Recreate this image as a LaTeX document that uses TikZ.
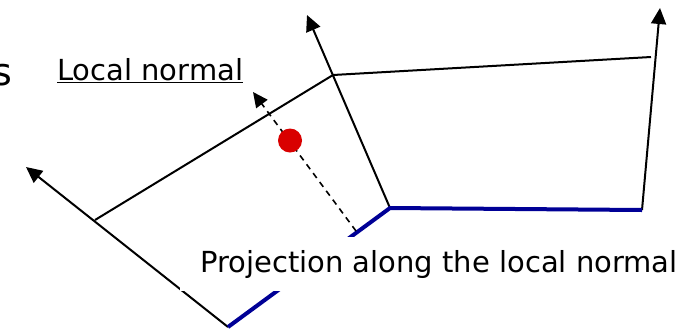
\documentclass[tikz,border=0pt]{standalone}
\usepackage{fontspec}
\setmainfont{DejaVu Sans}
\usetikzlibrary{arrows.meta}

\begin{document}
\begin{tikzpicture}[
  x=1pt, y=-1pt,
  edge/.style={line width=2pt, black},
  axis/.style={line width=2pt, -{Triangle[length=16pt, width=15pt]}},
  facet/.style={line width=4pt, draw={rgb,255:red,0;green,0;blue,150}},
  normal/.style={line width=1.6pt, dashed, dash pattern=on 6pt off 5pt, -{Triangle[length=15pt, width=14pt]}},
  label/.style={font=\fontsize{29}{32}\selectfont, inner sep=0pt}
]
\useasboundingbox (0,0) rectangle (692,330);

% corner points of the two cells
\coordinate (a) at (228,327);
\coordinate (b) at (95,220);
\coordinate (c) at (390,208);
\coordinate (d) at (333,75);
\coordinate (e) at (642,210);
\coordinate (f) at (651,57);
\coordinate (ltip) at (26,167);
\coordinate (mtip) at (307,15);
\coordinate (rtip) at (660,8);
\coordinate (foot) at (356,231);
\coordinate (ntip) at (253,92);

\draw[axis] (a) -- (ltip);
\draw[axis] (c) -- (mtip);
\draw[axis] (e) -- (rtip);
\draw[edge] (b) -- (d) -- (f);
\draw[facet] (a) -- (c) -- (e);
\draw[normal] (foot) -- (ntip);
\fill[red!85!black] (290,140.5) circle (12pt);

\node[label, anchor=base east, font=\fontsize{38}{40}\selectfont] (cut) at (12,85) {s};
\node[label, anchor=base west] (lnormal) at (57,80) {\underline{Local normal}};
\node[label, fill=white, inner xsep=20pt, inner ysep=13pt, anchor=west] (proj) at (180,264) {Projection along the local normal};
\end{tikzpicture}
\end{document}
